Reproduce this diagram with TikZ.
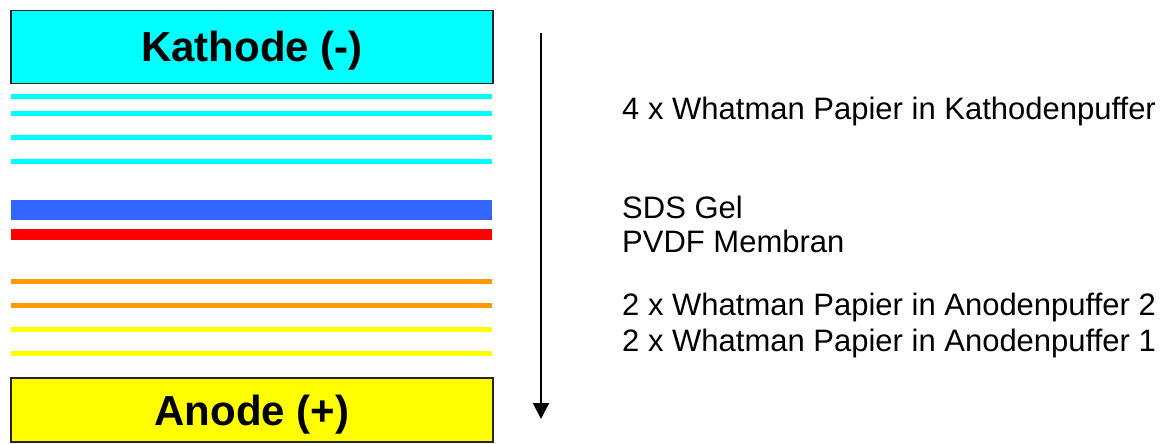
\documentclass[tikz,border=0pt]{standalone}
\usepackage{fontspec}
\setmainfont{Liberation Sans}
\usetikzlibrary{arrows.meta}
\definecolor{cyanL}{HTML}{00FFFF}
\definecolor{blueL}{HTML}{3366FF}
\definecolor{redL}{HTML}{FF0000}
\definecolor{orangeL}{HTML}{FF9900}
\definecolor{yellowL}{HTML}{FFFF00}
\tikzset{
  electrode/.style={draw=black!85, line width=1.6pt, minimum width=482pt, inner sep=0pt, text height=30pt, text depth=0pt, font=\fontsize{42}{50}\selectfont\bfseries},
  layer/.style={line width=#1},
  label/.style={anchor=base west, inner sep=0pt, font=\fontsize{31}{36}\selectfont},
}
\begin{document}
\begin{tikzpicture}[x=1pt,y=-1pt]
\useasboundingbox (0,0) rectangle (1167,444);
% electrodes
\node[electrode, fill=cyanL, minimum height=73pt] (kath) at (252,47) {Kathode (-)};
\node[electrode, fill=yellowL, minimum height=64pt] (anode) at (252,410) {Anode (+)};
% layers
\draw[layer=5pt, cyanL] (11,96) -- (492,96);
\draw[layer=5pt, cyanL] (11,113) -- (492,113);
\draw[layer=5pt, cyanL] (11,137) -- (492,137);
\draw[layer=5pt, cyanL] (11,161) -- (492,161);
\draw[layer=20pt, blueL] (11,209.5) -- (492,209.5);
\draw[layer=11pt, redL] (11,234) -- (492,234);
\draw[layer=5pt, orangeL] (11,281.5) -- (492,281.5);
\draw[layer=5pt, orangeL] (11,305.5) -- (492,305.5);
\draw[layer=5pt, yellowL] (11,329.5) -- (492,329.5);
\draw[layer=5pt, yellowL] (11,353.5) -- (492,353.5);
% arrow
\coordinate (atop) at (541,33);
\coordinate (abot) at (541,419);
\draw[line width=2pt, -{Triangle[width=16pt,length=16pt]}] (atop) -- (abot);
% labels
\node[label] (l1) at (622,119) {4 x Whatman Papier in Kathodenpuffer};
\node[label] (l2) at (622,218) {SDS Gel};
\node[label] (l3) at (622,252) {PVDF Membran};
\node[label] (l4) at (622,315) {2 x Whatman Papier in Anodenpuffer 2};
\node[label] (l5) at (622,351) {2 x Whatman Papier in Anodenpuffer 1};
\end{tikzpicture}
\end{document}
